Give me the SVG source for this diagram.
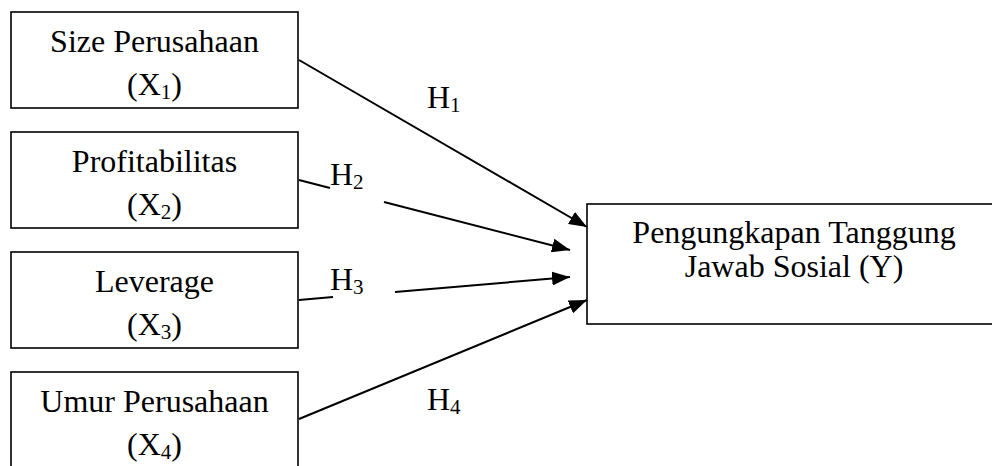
<svg xmlns="http://www.w3.org/2000/svg" width="992" height="466" viewBox="0 0 992 466">
  <style>
    .box { fill: #fff; stroke: #000; stroke-width: 1.6; }
    .lbl { font-family: "Liberation Serif", "Times New Roman", serif; font-size: 32px; fill: #000; }
    .sub { font-size: 21px; }
    .edge { stroke: #000; stroke-width: 2; fill: none; }
  </style>
  <defs>
    <marker id="arrow" markerUnits="userSpaceOnUse" markerWidth="20" markerHeight="14" refX="18" refY="7" orient="auto">
      <path d="M0,0 L18,7 L0,14 Z" fill="#000"/>
    </marker>
  </defs>
  <rect width="992" height="466" fill="#fff"/>

  <!-- independent variables -->
  <g id="x1">
    <rect class="box" x="11" y="12" width="287" height="96"/>
    <text class="lbl" x="154.5" y="52" text-anchor="middle">Size Perusahaan</text>
    <text class="lbl" x="154.5" y="95" text-anchor="middle">(X<tspan class="sub" dy="4">1</tspan><tspan dy="-4">)</tspan></text>
  </g>
  <g id="x2">
    <rect class="box" x="11" y="132" width="287" height="96"/>
    <text class="lbl" x="154.5" y="172" text-anchor="middle">Profitabilitas</text>
    <text class="lbl" x="154.5" y="215" text-anchor="middle">(X<tspan class="sub" dy="4">2</tspan><tspan dy="-4">)</tspan></text>
  </g>
  <g id="x3">
    <rect class="box" x="11" y="252" width="287" height="96"/>
    <text class="lbl" x="154.5" y="292" text-anchor="middle">Leverage</text>
    <text class="lbl" x="154.5" y="335" text-anchor="middle">(X<tspan class="sub" dy="4">3</tspan><tspan dy="-4">)</tspan></text>
  </g>
  <g id="x4">
    <rect class="box" x="11" y="372" width="287" height="110"/>
    <text class="lbl" x="154.5" y="412" text-anchor="middle">Umur Perusahaan</text>
    <text class="lbl" x="154.5" y="455" text-anchor="middle">(X<tspan class="sub" dy="4">4</tspan><tspan dy="-4">)</tspan></text>
  </g>

  <!-- dependent variable -->
  <g id="y">
    <rect class="box" x="587" y="204" width="414" height="120"/>
    <text class="lbl" x="794" y="243" text-anchor="middle">Pengungkapan Tanggung</text>
    <text class="lbl" x="794" y="277" text-anchor="middle">Jawab Sosial (Y)</text>
  </g>

  <!-- hypothesis paths -->
  <g id="connectors">
    <line class="edge" x1="299" y1="60" x2="587" y2="227" marker-end="url(#arrow)"/>
    <line class="edge" x1="299" y1="180" x2="330" y2="188"/>
    <line class="edge" x1="384" y1="202" x2="570" y2="250" marker-end="url(#arrow)"/>
    <line class="edge" x1="299" y1="300" x2="333" y2="297"/>
    <line class="edge" x1="395" y1="292" x2="570" y2="277" marker-end="url(#arrow)"/>
    <line class="edge" x1="299" y1="419" x2="587" y2="300" marker-end="url(#arrow)"/>
  </g>

  <!-- hypothesis labels -->
  <g id="labels">
    <text class="lbl" x="427" y="108">H<tspan class="sub" dy="4">1</tspan></text>
    <text class="lbl" x="330" y="185">H<tspan class="sub" dy="4">2</tspan></text>
    <text class="lbl" x="330" y="290">H<tspan class="sub" dy="4">3</tspan></text>
    <text class="lbl" x="427" y="410">H<tspan class="sub" dy="4">4</tspan></text>
  </g>
</svg>
